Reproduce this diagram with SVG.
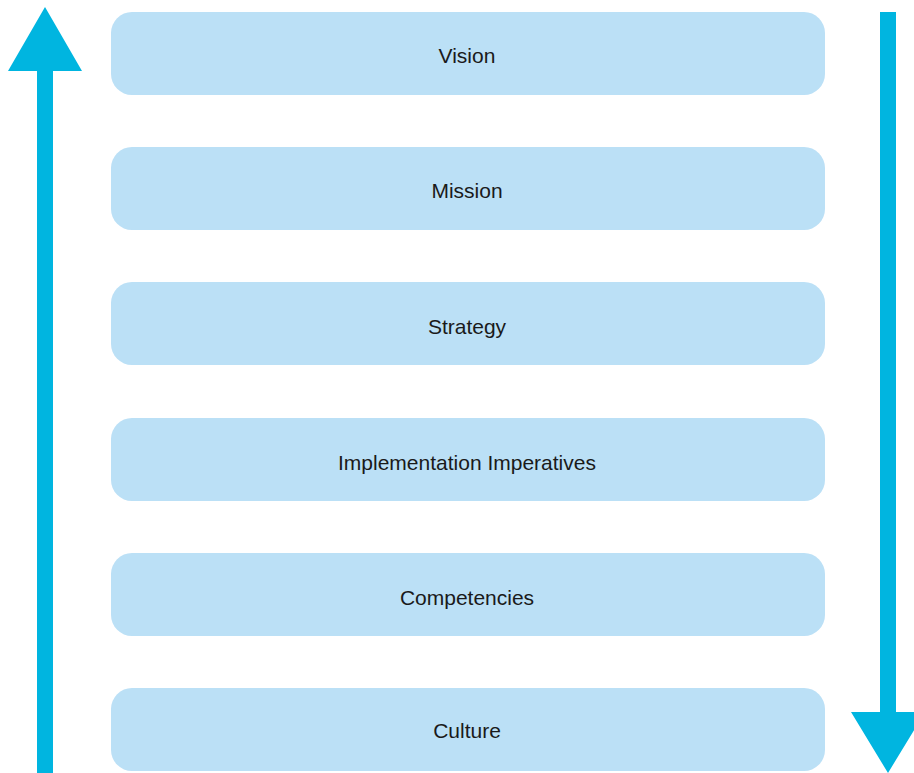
<svg xmlns="http://www.w3.org/2000/svg" width="914" height="773" viewBox="0 0 914 773">
  <style>
    .box { fill: #bbe0f6; }
    .label { font-family: "Liberation Sans", Arial, sans-serif; font-size: 21px; fill: #1a1a1a; text-anchor: middle; dominant-baseline: central; }
    .arrow { fill: #00b5e0; }
  </style>
  <rect width="914" height="773" fill="#ffffff"/>
  <g id="connectors">
    <!-- upward arrow on the left -->
    <path class="arrow" d="M37,773 L37,71 L8,71 L45,7 L82,71 L53,71 L53,773 Z"/>
    <!-- downward arrow on the right -->
    <path class="arrow" d="M880,12 L896,12 L896,712 L925,712 L888,773 L851,712 L880,712 Z"/>
  </g>
  <g id="vision">
    <rect class="box" x="111" y="12" width="714" height="83" rx="21"/>
    <text class="label" x="467" y="55">Vision</text>
  </g>
  <g id="mission">
    <rect class="box" x="111" y="147" width="714" height="83" rx="21"/>
    <text class="label" x="467" y="190">Mission</text>
  </g>
  <g id="strategy">
    <rect class="box" x="111" y="282" width="714" height="83" rx="21"/>
    <text class="label" x="467" y="326">Strategy</text>
  </g>
  <g id="implementation">
    <rect class="box" x="111" y="418" width="714" height="83" rx="21"/>
    <text class="label" x="467" y="462">Implementation Imperatives</text>
  </g>
  <g id="competencies">
    <rect class="box" x="111" y="553" width="714" height="83" rx="21"/>
    <text class="label" x="467" y="597">Competencies</text>
  </g>
  <g id="culture">
    <rect class="box" x="111" y="688" width="714" height="83" rx="21"/>
    <text class="label" x="467" y="730">Culture</text>
  </g>
</svg>
